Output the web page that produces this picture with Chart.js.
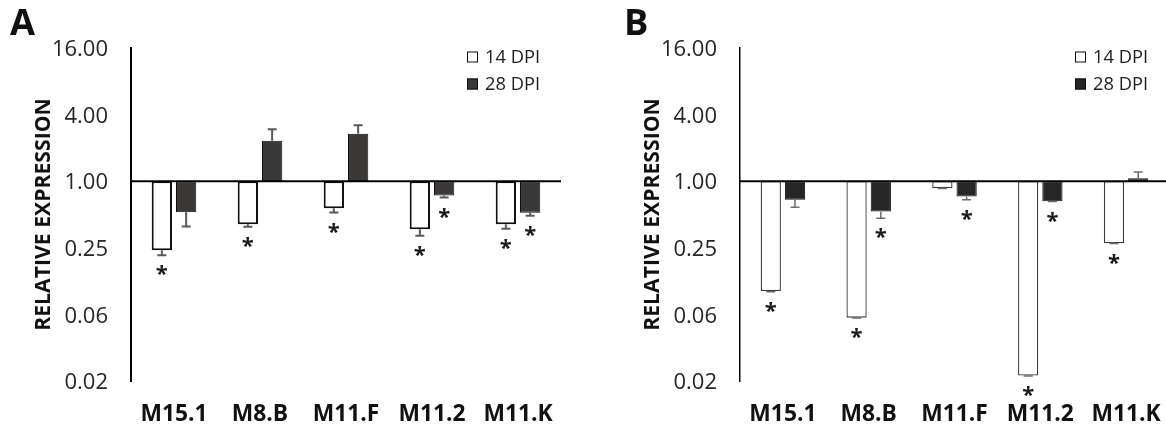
<!DOCTYPE html>
<html lang="en">
<head>
<meta charset="UTF-8">
<title>Relative expression at 14 and 28 DPI</title>
<script src="https://cdn.jsdelivr.net/npm/chart.js"></script>
<style>
  body { margin: 0; width: 1166px; height: 429px; overflow: hidden; background: #fff; position: relative; }
  .panel { position: absolute; top: 0; }
</style>
</head>
<body>
<canvas id="chartA" class="panel" style="left:0"></canvas>
<canvas id="chartB" class="panel" style="left:600px"></canvas>
<script>
const genes = ['M15.1', 'M8.B', 'M11.F', 'M11.2', 'M11.K'];
const seriesNames = ['14 DPI', '28 DPI'];
const yTickValues = [0.015625, 0.0625, 0.25, 1, 4, 16];
const yTickLabels = ['0.02', '0.06', '0.25', '1.00', '4.00', '16.00'];

// panel A
const a14 = [0.238, 0.409, 0.570, 0.368, 0.409];
const a14Err = [0.214, 0.387, 0.521, 0.321, 0.371];
const a14Sig = [true, true, true, true, true];
const a28 = [0.525, 2.32, 2.68, 0.743, 0.518];
const a28Err = [0.389, 2.95, 3.21, 0.712, 0.487];
const a28Sig = [false, false, false, true, true];

// panel B
const b14 = [0.1015, 0.0584, 0.865, 0.0175, 0.275];
const b14Err = [0.100, 0.0580, 0.860, 0.0173, 0.273];
const b14Sig = [true, true, false, true, true];
const b28 = [0.681, 0.531, 0.726, 0.660, 1.065];
const b28Err = [0.582, 0.463, 0.681, 0.655, 1.21];
const b28Sig = [false, true, true, true, false];

const FONT = "'Open Sans', sans-serif";

// pick a font size so that a sample string comes out at a given width
const measureCtx = document.createElement('canvas').getContext('2d');
function fitSize(sample, weight, width) {
    measureCtx.font = `${weight} 100px ${FONT}`;
    return Math.round(1000 * width / measureCtx.measureText(sample).width) / 10;
}
const tickSize = fitSize('16.00', 'normal', 56);
const catSize = fitSize('M15.1', 'bold', 67);
const legendSize = fitSize('14 DPI', 'normal', 55);
const titleSize = fitSize('RELATIVE EXPRESSION', 'bold', 233);
const letterSize = fitSize('A', 'bold', 25);
const starSize = fitSize('*', 'bold', 12);

// error bars, significance stars, the 1.00 line, legend and panel letter
const overlay = {
    id: 'overlay',
    afterDatasetsDraw(chart, args, opts) {
        const { ctx, chartArea, scales: { y } } = chart;
        ctx.save();
        chart.data.datasets.forEach((ds, i) => {
            const meta = chart.getDatasetMeta(i);
            meta.data.forEach((bar, j) => {
                const yBar = y.getPixelForValue(ds.data[j][1]);
                const yErr = y.getPixelForValue(ds.errEnd[j]);
                ctx.strokeStyle = opts.errColor;
                ctx.lineWidth = opts.errWidth;
                ctx.beginPath();
                ctx.moveTo(bar.x, yBar);
                ctx.lineTo(bar.x, yErr);
                ctx.moveTo(bar.x - 4.5, yErr);
                ctx.lineTo(bar.x + 4.5, yErr);
                ctx.stroke();
                if (ds.sig[j]) {
                    ctx.fillStyle = '#1a1a1a';
                    ctx.font = `bold ${starSize}px ${FONT}`;
                    ctx.textAlign = 'center';
                    ctx.textBaseline = 'alphabetic';
                    const down = ds.data[j][1] < 1;
                    const cy = down ? yErr + opts.starGap : yErr - opts.starGap;
                    ctx.fillText('*', bar.x, cy + starSize * 0.55);
                }
            });
        });

        const y1 = y.getPixelForValue(1);
        ctx.strokeStyle = '#000';
        ctx.lineWidth = 2;
        ctx.beginPath();
        ctx.moveTo(chartArea.left, y1);
        ctx.lineTo(chartArea.right, y1);
        ctx.stroke();

        // legend
        ctx.font = `${legendSize}px ${FONT}`;
        ctx.textAlign = 'left';
        ctx.textBaseline = 'middle';
        chart.data.datasets.forEach((ds, i) => {
            const ty = opts.legendY + i * 27;
            ctx.fillStyle = ds.backgroundColor;
            ctx.fillRect(opts.legendX, ty - 5.5, 11, 11);
            ctx.strokeStyle = '#111';
            ctx.lineWidth = 1;
            ctx.strokeRect(opts.legendX + 0.5, ty - 5, 10, 10);
            ctx.fillStyle = '#222';
            ctx.fillText(ds.label, opts.legendX + 18, ty + 1);
        });

        // panel letter
        ctx.font = `bold ${letterSize}px ${FONT}`;
        ctx.fillStyle = '#111';
        ctx.textBaseline = 'alphabetic';
        ctx.fillText(opts.letter, opts.letterX, 35);
        ctx.restore();
    }
};

function makeChart(id, width, axisLeft, v14, e14, s14, v28, e28, s28, look) {
    const canvas = document.getElementById(id);
    canvas.width = width;
    canvas.height = 429;
    return new Chart(canvas, {
        type: 'bar',
        data: {
            labels: genes,
            datasets: [{
                label: seriesNames[0],
                data: v14.map(v => [1, v]),
                errEnd: e14,
                sig: s14,
                backgroundColor: '#ffffff',
                borderColor: look.whiteBorder,
                borderWidth: look.whiteBorderWidth,
                borderSkipped: false,
                categoryPercentage: 0.565,
                barPercentage: 0.835
            }, {
                label: seriesNames[1],
                data: v28.map(v => [1, v]),
                errEnd: e28,
                sig: s28,
                backgroundColor: look.darkFill,
                borderColor: '#111',
                borderWidth: 1,
                borderSkipped: false,
                categoryPercentage: 0.565,
                barPercentage: 0.835
            }]
        },
        options: {
            responsive: false,
            animation: false,
            layout: { padding: { top: 48, right: width - axisLeft - look.plotWidth, bottom: 0, left: 0 } },
            plugins: {
                legend: { display: false },
                tooltip: { enabled: false },
                overlay: look
            },
            scales: {
                x: {
                    grid: { display: false, drawTicks: false },
                    border: { display: false },
                    ticks: {
                        font: { family: FONT, size: catSize, weight: 'bold' },
                        color: '#111',
                        padding: Math.round(34 - catSize * 0.6),
                        maxRotation: 0,
                        autoSkip: false
                    },
                    afterFit(scale) { scale.height = 48; }
                },
                y: {
                    type: 'logarithmic',
                    min: yTickValues[0],
                    max: yTickValues[yTickValues.length - 1],
                    grid: { display: false, drawTicks: false },
                    border: { display: true, color: '#000', width: look.axisWidth },
                    afterBuildTicks(scale) {
                        scale.ticks = yTickValues.map(v => ({ value: v }));
                    },
                    ticks: {
                        font: { family: FONT, size: tickSize },
                        color: '#262626',
                        padding: 23,
                        labelOffset: 2,
                        autoSkip: false,
                        callback: (value, index) => yTickLabels[index]
                    },
                    title: {
                        display: true,
                        text: 'RELATIVE EXPRESSION',
                        font: { family: FONT, size: titleSize, weight: 'bold' },
                        color: '#111',
                        padding: { top: Math.round(look.titleX - titleSize * 0.6), bottom: 0 }
                    },
                    afterFit(scale) { scale.width = axisLeft; }
                }
            }
        },
        plugins: [overlay]
    });
}

makeChart('chartA', 600, 131, a14, a14Err, a14Sig, a28, a28Err, a28Sig, {
    plotWidth: 430, whiteBorder: '#111', whiteBorderWidth: 2, darkFill: '#3b3838',
    axisWidth: 2, titleX: 44, errColor: '#595959', errWidth: 2, starGap: 14,
    legendX: 467, legendY: 57, letter: 'A', letterX: 10
});

makeChart('chartB', 600, 140, b14, b14Err, b14Sig, b28, b28Err, b28Sig, {
    plotWidth: 429, whiteBorder: '#3a3a3a', whiteBorderWidth: 1.3, darkFill: '#262626',
    axisWidth: 1.5, titleX: 53, errColor: '#6b6b6b', errWidth: 1.5, starGap: 14,
    legendX: 475, legendY: 57, letter: 'B', letterX: 24
});
</script>
</body>
</html>
